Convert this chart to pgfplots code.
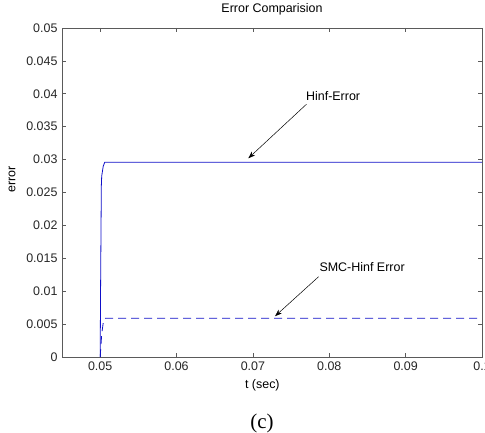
\documentclass[border=0pt]{standalone}
\usepackage{pgfplots}
\pgfplotsset{compat=1.18}
\usepackage{fontspec}
\setmainfont{Liberation Sans}
\newfontfamily\timesfont{Liberation Serif}
\usetikzlibrary{arrows.meta}
\definecolor{mblue}{RGB}{15,15,200}
\definecolor{axgray}{RGB}{90,90,90}
\begin{document}
\begin{tikzpicture}[x=1bp,y=1bp]
\path[use as bounding box] (0,0) rectangle (485,433);
\begin{axis}[
  at={(62bp,76bp)}, anchor=south west,
  width=420bp, height=329bp, scale only axis,
  xmin=0.045, xmax=0.1, ymin=0, ymax=0.05,
  xtick={0.05,0.06,0.07,0.08,0.09,0.1},
  ytick={0,0.005,0.01,0.015,0.02,0.025,0.03,0.035,0.04,0.045,0.05},
  scaled ticks=false,
  /pgf/number format/.cd, fixed, precision=3, assume math mode=true,
  /pgfplots/.cd,
  tick align=inside,
  major tick length=4bp,
  every tick/.style={axgray, line width=0.6pt},
  axis line style={axgray, line width=0.8pt},
  tick label style={font=\fontsize{12.5}{13}\selectfont, color=black!85},
  xticklabel style={yshift=-1bp},
  yticklabel style={xshift=-1bp},
  title={Error Comparision},
  title style={font=\fontsize{12.5}{14}\selectfont, at={(axis description cs:0.5,1)}, anchor=south, yshift=3bp},
  xlabel={t (sec)},
  xlabel style={font=\fontsize{12.5}{13}\selectfont, at={(axis description cs:0.477,0)}, anchor=center, yshift=-28bp},
  ylabel={error},
  ylabel style={font=\fontsize{12.5}{13}\selectfont, at={(axis description cs:-0.119,0.54)}, anchor=center},
  clip=false,
]
\addplot[mblue, line width=0.8pt] coordinates {
 (0.0500,0) (0.05005,0.010) (0.0501,0.018) (0.05015,0.026) (0.0502,0.0275) (0.0504,0.0290) (0.0506,0.0296) (0.1,0.0296)
};
\addplot[mblue, line width=0.8pt, dash pattern=on 8bp off 5bp] coordinates {
 (0.0500,0) (0.0502,0.0035) (0.0504,0.0052) (0.0507,0.0059) (0.1,0.0059)
};
\draw[black, line width=0.5pt, -{Stealth[length=7bp,width=5bp]}] (axis cs:0.0770,0.0384) -- (axis cs:0.0694,0.0302);
\node[font=\fontsize{12.5}{13}\selectfont] at (axis cs:0.0805,0.0397) {Hinf-Error};
\draw[black, line width=0.5pt, -{Stealth[length=7bp,width=5bp]}] (axis cs:0.0786,0.0122) -- (axis cs:0.0729,0.0062);
\node[font=\fontsize{12.5}{13}\selectfont] at (axis cs:0.0843,0.0136) {SMC-Hinf Error};
\end{axis}
\node[font=\timesfont\fontsize{21}{23}\selectfont] at (262,10) {(c)};
\end{tikzpicture}
\end{document}
